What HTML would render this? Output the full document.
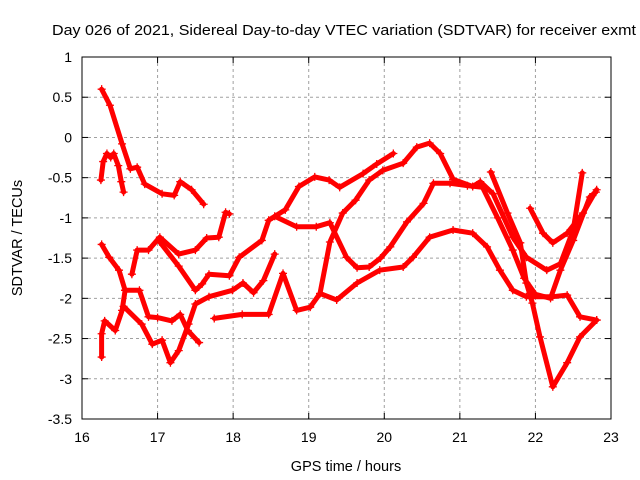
<!DOCTYPE html>
<html><head><meta charset="utf-8"><style>
body{margin:0;background:#fff;}
svg{display:block;font-family:"Liberation Sans",sans-serif;}
</style></head><body>
<svg id="chart" width="640" height="480" viewBox="0 0 640 480">
<rect width="640" height="480" fill="#fff"/>
<text x="52" y="35" font-size="15" textLength="584" lengthAdjust="spacingAndGlyphs">Day 026 of 2021, Sidereal Day-to-day VTEC variation (SDTVAR) for receiver exmt</text>
<g id="grid"></g>
<g id="series"></g>
<rect x="82" y="57" width="529" height="362" fill="none" stroke="#000" stroke-width="1"/>
<g id="ticks"></g>
<text x="346" y="471" font-size="14.5" text-anchor="middle">GPS time / hours</text>
<text transform="translate(22,238) rotate(-90)" font-size="14.5" text-anchor="middle">SDTVAR / TECUs</text>
</svg>
<script>
const xTicks=[16,17,18,19,20,21,22,23];
const yTicks=[1,0.5,0,-0.5,-1,-1.5,-2,-2.5,-3,-3.5];
const seriesNames=['a','b','c1','c2','l1','l3','l4','l5','q','r','t','u'];
const tA=[16.26,16.37,16.53,16.64,16.73,16.83,17.06,17.22,17.3,17.45,17.61];
const vA=[0.6,0.4,-0.08,-0.39,-0.37,-0.58,-0.7,-0.72,-0.55,-0.65,-0.83];
const tB=[16.25,16.28,16.33,16.38,16.42,16.48,16.52,16.55];
const vB=[-0.53,-0.3,-0.2,-0.25,-0.2,-0.35,-0.55,-0.68];
const tC1=[16.66,16.73,16.88,17.03,17.28,17.5,17.65,17.81,17.9,17.95];
const vC1=[-1.7,-1.4,-1.4,-1.24,-1.45,-1.4,-1.25,-1.24,-0.93,-0.95];
const tC2=[17.03,17.28,17.5,17.59,17.68,17.95,18.08,18.38,18.47,18.69,18.87,19.08,19.27,19.41,19.72,19.9,20.12];
const vC2=[-1.3,-1.6,-1.9,-1.82,-1.7,-1.72,-1.49,-1.28,-1.03,-0.9,-0.61,-0.49,-0.53,-0.62,-0.45,-0.33,-0.2];
const tL1=[16.26,16.36,16.49,16.57,16.53,16.44,16.3,16.26,16.26];
const vL1=[-1.33,-1.49,-1.65,-1.9,-2.15,-2.4,-2.28,-2.44,-2.73];
const tL3=[16.57,16.76,16.88,17.0,17.19,17.3,17.4,17.55];
const vL3=[-1.9,-1.9,-2.23,-2.24,-2.28,-2.2,-2.4,-2.55];
const tL4=[16.55,16.79,16.93,17.06,17.17,17.28,17.41,17.5,17.68,17.99,18.13,18.27,18.4,18.55];
const vL4=[-2.1,-2.32,-2.57,-2.52,-2.8,-2.65,-2.32,-2.07,-1.98,-1.9,-1.81,-1.93,-1.78,-1.45];
const tL5=[17.75,18.12,18.47,18.66,18.84,19.02,19.15,19.37,19.64,19.94,20.25,20.38,20.6,20.91,21.17,21.36,21.53,21.7,21.88,22.23,22.42,22.59,22.81];
const vL5=[-2.25,-2.2,-2.2,-1.69,-2.15,-2.11,-1.94,-2.02,-1.81,-1.65,-1.61,-1.49,-1.24,-1.15,-1.19,-1.36,-1.65,-1.9,-1.98,-1.98,-1.96,-2.23,-2.27];
const tQ=[19.15,19.28,19.45,19.62,19.8,19.98,20.25,20.43,20.6,20.74,20.91,21.17,21.27,21.44,21.7,21.88,22.15,22.33,22.5,22.62];
const vQ=[-1.94,-1.3,-0.94,-0.78,-0.53,-0.41,-0.32,-0.12,-0.07,-0.2,-0.52,-0.61,-0.55,-0.7,-1.24,-1.49,-1.65,-1.57,-1.15,-0.44];
const tR=[18.55,18.84,19.1,19.28,19.5,19.64,19.8,19.95,20.08,20.3,20.52,20.65,20.87,21.1,21.3,21.5,21.7,21.85,22.0,22.2,22.33,22.5,22.72,22.8];
const vR=[-0.98,-1.11,-1.11,-1.06,-1.49,-1.62,-1.61,-1.5,-1.36,-1.05,-0.82,-0.57,-0.57,-0.6,-0.62,-1.0,-1.4,-1.75,-1.95,-2.0,-1.65,-1.28,-0.74,-0.68];
const tT=[21.41,21.63,21.8,21.88,21.96,22.06,22.23,22.42,22.59,22.81];
const vT=[-0.43,-0.94,-1.31,-1.81,-2.06,-2.48,-3.1,-2.8,-2.48,-2.27];
const tU=[21.93,22.1,22.23,22.42,22.63,22.81];
const vU=[-0.88,-1.19,-1.31,-1.19,-0.94,-0.65];
const allT=[tA,tB,tC1,tC2,tL1,tL3,tL4,tL5,tQ,tR,tT,tU];
const allV=[vA,vB,vC1,vC2,vL1,vL3,vL4,vL5,vQ,vR,vT,vU];

const X0=82,X1=611,Y0=419,Y1=57;
function sx(h){return X0+(h-16)/7*(X1-X0);}
function sy(v){return Y0-(v+3.5)/4.5*(Y0-Y1);}
const NS='http://www.w3.org/2000/svg';
function mk(tag,attrs,parent){const e=document.createElementNS(NS,tag);for(const k in attrs)e.setAttribute(k,attrs[k]);parent.appendChild(e);return e;}
const grid=document.getElementById('grid'),ticks=document.getElementById('ticks'),ser=document.getElementById('series');
xTicks.forEach(t=>{
  const x=sx(t);
  if(t>16&&t<23){const g=mk('line',{x1:x,x2:x,y1:Y1,y2:Y0,stroke:'#a0a0a0','stroke-dasharray':'3,3'},grid);
  
  }
  mk('line',{x1:x,x2:x,y1:Y0,y2:Y0-6,stroke:'#000'},ticks);
  mk('line',{x1:x,x2:x,y1:Y1,y2:Y1+6,stroke:'#000'},ticks);
  const l=mk('text',{x:x,y:442,'font-size':14,'text-anchor':'middle'},ticks);
  l.textContent=t;
  
  
});
yTicks.forEach(t=>{
  const y=sy(t);
  if(t<1&&t>-3.5){const g=mk('line',{x1:X0,x2:X1,y1:y,y2:y,stroke:'#a0a0a0','stroke-dasharray':'3,3'},grid);
  
  }
  mk('line',{x1:X0,x2:X0+6,y1:y,y2:y,stroke:'#000'},ticks);
  mk('line',{x1:X1,x2:X1-6,y1:y,y2:y,stroke:'#000'},ticks);
  const l=mk('text',{x:72,y:y+5,'font-size':14,'text-anchor':'end'},ticks);
  l.textContent=t;
  
  
});
allT.forEach((ts,i)=>{
  const vs=allV[i];
  const g=mk('g',{},ser);
  
  
  const pts=ts.map((t,j)=>sx(t).toFixed(1)+','+sy(vs[j]).toFixed(1)).join(' ');
  mk('polyline',{points:pts,fill:'none',stroke:'#f00','stroke-width':5,'stroke-linejoin':'round','stroke-linecap':'round'},g);
  ts.forEach((t,j)=>{
    const x=sx(t),y=sy(vs[j]);
    const p=mk('path',{d:`M${x-4},${y}H${x+4}M${x},${y-4}V${y+4}`,stroke:'#f00','stroke-width':1.3},g);
    
    
  });
});
</script>
</body></html>
